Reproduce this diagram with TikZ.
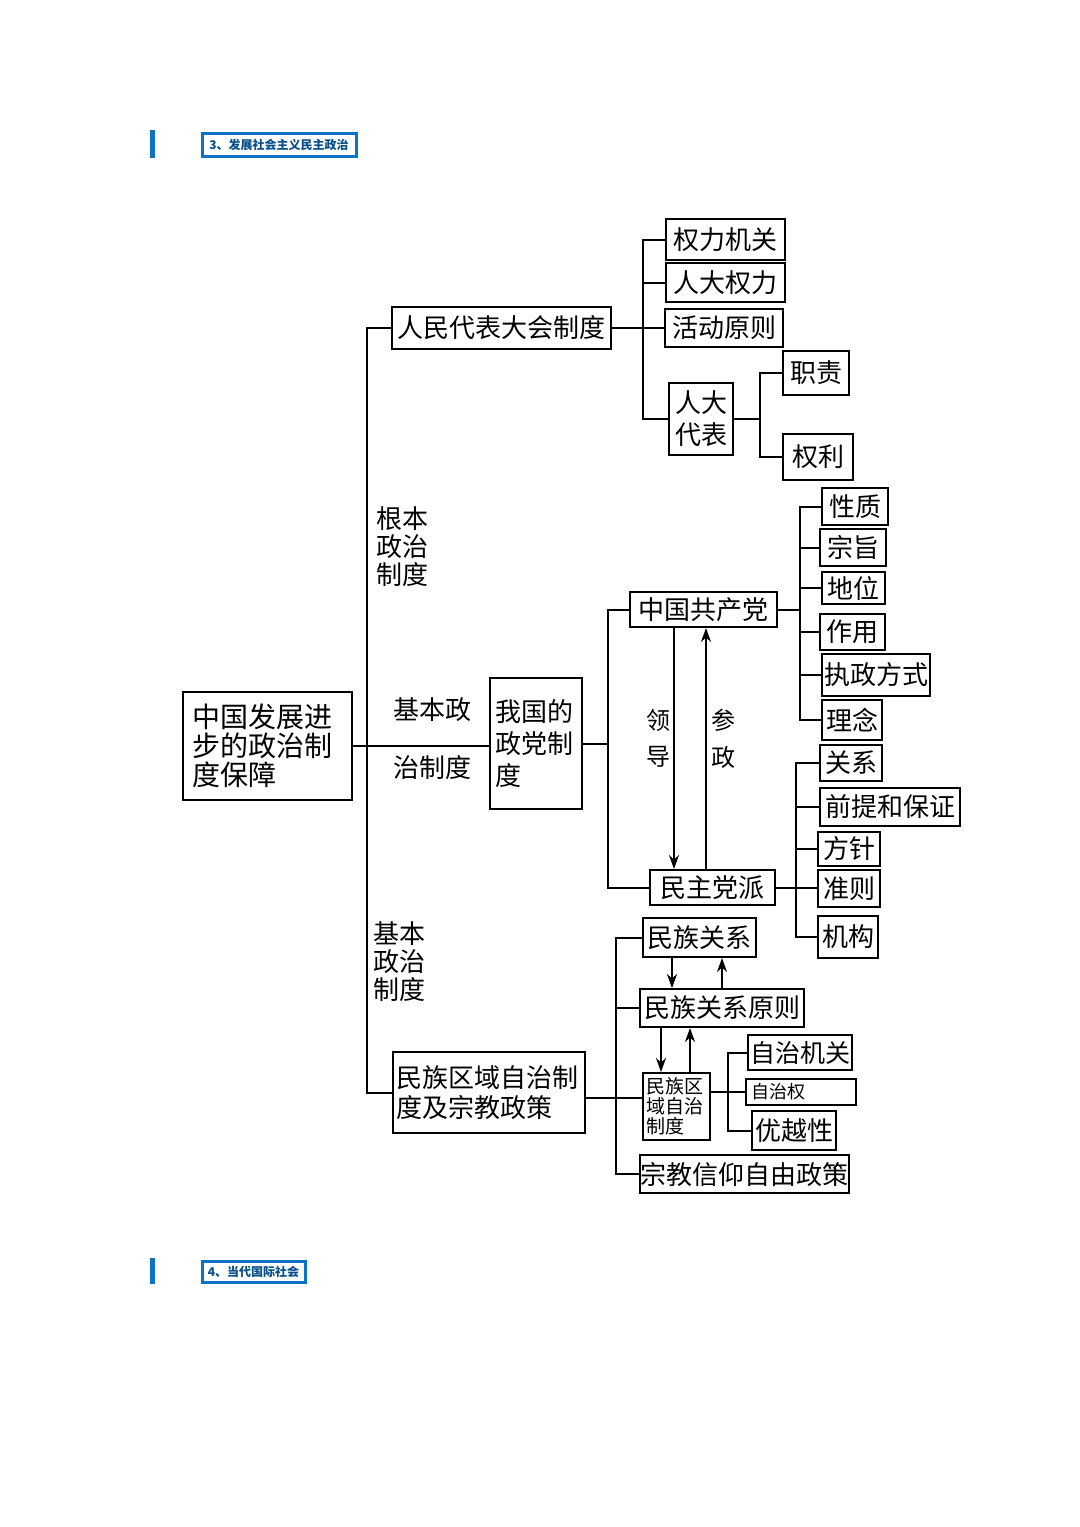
\documentclass[tikz,border=0pt]{standalone}
\usepackage{fontspec}
\setmainfont{Noto Sans CJK SC}
\usetikzlibrary{arrows.meta}
\definecolor{hblue}{HTML}{0B72C4}
\begin{document}
\begin{tikzpicture}[x=0.5pt,y=-0.5pt,
 box/.style={draw, line width=1pt, inner sep=0pt, font=\fontsize{13}{15}\selectfont, align=center},
 lbl/.style={inner sep=0pt, font=\fontsize{13}{14}\selectfont, align=center},
 arr/.style={-{Stealth[length=7pt,width=5pt]}, line width=1pt},
 conn/.style={line width=1pt},
 hdr/.style={draw=hblue, line width=1.5pt, inner sep=0pt, text=hblue!70!black, font=\fontsize{6}{7}\selectfont\bfseries}]
\fill[white] (0,0) rectangle (1080,1527);
\useasboundingbox (0,0) rectangle (1080,1527);
% headers
\fill[hblue] (150,130) rectangle (155,158);
\node[hdr, minimum width=77pt, minimum height=11.5pt] (h1) at (279,144.5) {3、发展社会主义民主政治};
\fill[hblue] (150,1258) rectangle (155,1284);
\node[hdr, minimum width=51.5pt, minimum height=10.5pt] (h2) at (253.5,1271.5) {4、当代国际社会};
% main
\node[box, minimum width=84.5pt, minimum height=54pt, text width=75pt, align=left, font=\fontsize{14}{14.5}\selectfont] (main) at (267.5,746) {中国发展进\\步的政治制\\度保障};
% NPC
\node[box, minimum width=109.5pt, minimum height=21pt] (rd) at (501.5,328) {人民代表大会制度};
\node[box, minimum width=59.5pt, minimum height=20.5pt] (qljg) at (725.5,239.5) {权力机关};
\node[box, minimum width=59.5pt, minimum height=19.5pt] (rdql) at (725.5,282.5) {人大权力};
\node[box, minimum width=59pt, minimum height=19pt] (hdyz) at (724,328) {活动原则};
\node[box, minimum width=32pt, minimum height=36pt, font=\fontsize{13}{16}\selectfont] (rddb) at (701,419) {人大\\代表};
\node[box, minimum width=33pt, minimum height=22pt] (zz) at (816,373) {职责};
\node[box, minimum width=35pt, minimum height=23pt] (ql) at (818,457) {权利};
% party system
\node[box, minimum width=46pt, minimum height=65.5pt, text width=41pt, align=left, font=\fontsize{13}{16}\selectfont] (party) at (536,743.5) {我国的\\政党制\\度};
\node[box, minimum width=73.5pt, minimum height=17.5pt] (zggcd) at (703.5,609.5) {中国共产党};
\node[box, minimum width=62.5pt, minimum height=17.5pt] (mzdp) at (712.5,887.5) {民主党派};
\node[box, minimum width=33pt, minimum height=18.5pt] (xz) at (855,506.5) {性质};
\node[box, minimum width=33pt, minimum height=18.5pt] (zzhi) at (853,547.5) {宗旨};
\node[box, minimum width=31.5pt, minimum height=16pt] (dw) at (853.5,588) {地位};
\node[box, minimum width=32.5pt, minimum height=18pt] (zy) at (852.5,632) {作用};
\node[box, minimum width=54pt, minimum height=21pt] (zzfs) at (876,675) {执政方式};
\node[box, minimum width=30pt, minimum height=20pt] (ln) at (852,720) {理念};
\node[box, minimum width=31pt, minimum height=18pt] (gx) at (851,763) {关系};
\node[box, minimum width=70pt, minimum height=19pt] (qt) at (890,807) {前提和保证};
\node[box, minimum width=31pt, minimum height=17pt] (fz) at (849,849) {方针};
\node[box, minimum width=31pt, minimum height=18.5pt] (zzr) at (849,888.5) {准则};
\node[box, minimum width=30pt, minimum height=21pt] (jg) at (848,937) {机构};
% ethnic
\node[box, minimum width=96pt, minimum height=40.5pt, text width=93pt, align=left, font=\fontsize{13}{15}\selectfont] (mzqy) at (489,1092.5) {民族区域自治制\\度及宗教政策};
\node[box, minimum width=56.5pt, minimum height=19.5pt] (mzgx) at (699.5,937.5) {民族关系};
\node[box, minimum width=82pt, minimum height=19pt] (mzgxyz) at (722,1008) {民族关系原则};
\node[box, minimum width=33.5pt, minimum height=33.5pt, text width=30pt, align=left, font=\fontsize{9.5}{10}\selectfont] (mzzz) at (676.5,1106.5) {民族区\\域自治\\制度};
\node[box, minimum width=104.5pt, minimum height=19pt] (zjxy) at (744.5,1174) {宗教信仰自由政策};
\node[box, minimum width=52pt, minimum height=17.5pt, font=\fontsize{12.5}{14}\selectfont] (zzjg) at (800,1052.5) {自治机关};
\node[box, minimum width=55pt, minimum height=13pt, text width=50pt, align=left, font=\fontsize{9}{10}\selectfont] (zzq) at (801,1092) {自治权};
\node[box, minimum width=42pt, minimum height=19.5pt] (yyx) at (794,1130.5) {优越性};
% labels
\node[lbl] (l1) at (402,547) {根本\\政治\\制度};
\node[lbl] (l2a) at (432,710) {基本政};
\node[lbl] (l2b) at (432,768) {治制度};
\node[lbl] (l3) at (399,962) {基本\\政治\\制度};
\node[lbl, font=\fontsize{12}{13}\selectfont] (ld1) at (658,720) {领};
\node[lbl, font=\fontsize{12}{13}\selectfont] (ld2) at (658,757) {导};
\node[lbl, font=\fontsize{12}{13}\selectfont] (cz1) at (723,720) {参};
\node[lbl, font=\fontsize{12}{13}\selectfont] (cz2) at (723,757) {政};
% coordinates
\coordinate (sp) at (367,746);
\coordinate (tx) at (643,0);
\coordinate (rx) at (760,0);
\coordinate (px) at (608,0);
\coordinate (cx) at (800,0);
\coordinate (dx) at (796,0);
\coordinate (bx) at (616,0);
\coordinate (sx) at (728,0);
\coordinate (by) at (0,1098);
\coordinate (lx) at (674,0);
\coordinate (ux) at (706,0);
\coordinate (a1) at (672,0);
\coordinate (a2) at (722,0);
\coordinate (a3) at (661,0);
\coordinate (a4) at (690,0);
% main spine
\draw[conn] (rd.west) -| (sp) |- (mzqy.west);
\draw[conn] (main.east |- sp) -- (party.west |- sp);
% NPC branches
\draw[conn] (qljg.west) -| (tx |- rddb.west) -- (rddb.west);
\draw[conn] (rdql.west) -- (tx |- rdql.west);
\draw[conn] (rd.east) -- (hdyz.west);
\draw[conn] (zz.west) -| (rx |- ql.west) -- (ql.west);
\draw[conn] (rddb.east) -- (rx |- rddb.east);
% party branches
\draw[conn] (zggcd.west) -| (px |- mzdp.west) -- (mzdp.west);
\draw[conn] (party.east) -- (px |- party.east);
\draw[arr] (zggcd.south -| lx) -- (mzdp.north -| lx);
\draw[arr] (mzdp.north -| ux) -- (zggcd.south -| ux);
\draw[conn] (xz.west) -| (cx |- ln.west) -- (ln.west);
\draw[conn] (zzhi.west) -- (cx |- zzhi.west);
\draw[conn] (dw.west) -- (cx |- dw.west);
\draw[conn] (zy.west) -- (cx |- zy.west);
\draw[conn] (zzfs.west) -- (cx |- zzfs.west);
\draw[conn] (zggcd.east) -- (cx |- zggcd.east);
\draw[conn] (gx.west) -| (dx |- jg.west) -- (jg.west);
\draw[conn] (qt.west) -- (dx |- qt.west);
\draw[conn] (fz.west) -- (dx |- fz.west);
\draw[conn] (mzdp.east) -- (zzr.west |- mzdp.east);
% ethnic branches
\draw[conn] (mzgx.west) -| (bx |- zjxy.west) -- (zjxy.west);
\draw[conn] (mzgxyz.west) -- (bx |- mzgxyz.west);
\draw[conn] (mzqy.east |- by) -- (mzzz.west |- by);
\draw[arr] (mzgx.south -| a1) -- (mzgxyz.north -| a1);
\draw[arr] (mzgxyz.north -| a2) -- (mzgx.south -| a2);
\draw[arr] (mzgxyz.south -| a3) -- (mzzz.north -| a3);
\draw[arr] (mzzz.north -| a4) -- (mzgxyz.south -| a4);
\draw[conn] (zzjg.west) -| (sx |- yyx.west) -- (yyx.west);
\draw[conn] (mzzz.east |- zzq.west) -- (zzq.west);
\end{tikzpicture}
\end{document}
